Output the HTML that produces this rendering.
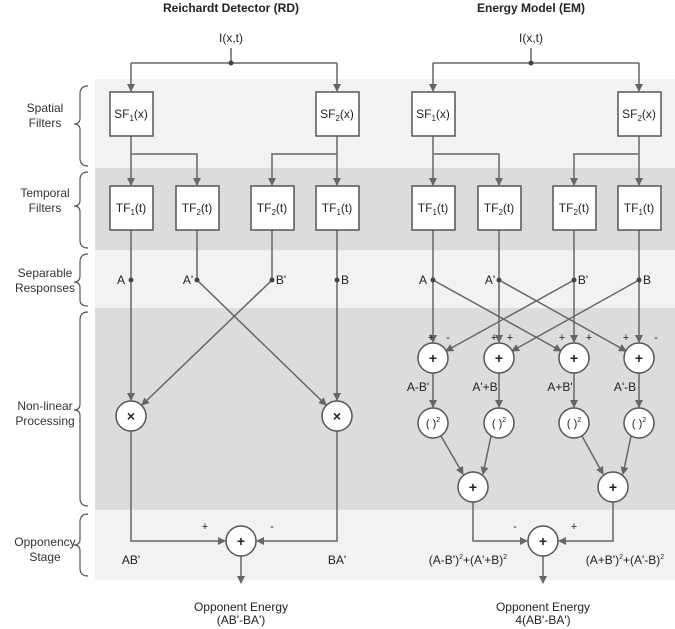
<html><head><style>body{margin:0;background:#fff}svg{font-family:"Liberation Sans",Arial,sans-serif}</style></head><body>
<svg width="675" height="629" viewBox="0 0 675 629" xmlns="http://www.w3.org/2000/svg">
<defs><marker id="a" markerWidth="8" markerHeight="8" refX="7" refY="4" orient="auto" markerUnits="userSpaceOnUse"><path d="M0,0 L8,4 L0,8 Z" fill="#666"/></marker></defs>
<rect x="95" y="79" width="580" height="89" fill="#f2f2f2"/>
<rect x="95" y="168" width="580" height="82" fill="#dcdcdd"/>
<rect x="95" y="250" width="580" height="58" fill="#f2f2f2"/>
<rect x="95" y="308" width="580" height="202" fill="#dcdcdd"/>
<rect x="95" y="510" width="580" height="70" fill="#f2f2f2"/>
<g font-size="12" fill="#333" text-anchor="middle">
<text x="45" y="112">Spatial</text><text x="45" y="127">Filters</text>
<text x="45" y="197">Temporal</text><text x="45" y="212">Filters</text>
<text x="45" y="277">Separable</text><text x="45" y="292">Responses</text>
<text x="45" y="410">Non-linear</text><text x="45" y="425">Processing</text>
<text x="45" y="546">Opponency</text><text x="45" y="561">Stage</text>
</g>
<g fill="none" stroke="#555" stroke-width="1.2">
<path d="M88,86 Q80,86 80,94 V118 Q80,124 74,124 Q80,124 80,130 V158 Q80,166 88,166"/>
<path d="M88,172 Q80,172 80,180 V200 Q80,206 74,206 Q80,206 80,212 V240 Q80,248 88,248"/>
<path d="M88,254 Q80,254 80,262 V276 Q80,282 74,282 Q80,282 80,288 V300 Q80,306 88,306"/>
<path d="M88,312 Q80,312 80,320 V404 Q80,410 74,410 Q80,410 80,416 V498 Q80,506 88,506"/>
<path d="M88,514 Q80,514 80,522 V539 Q80,545 74,545 Q80,545 80,551 V568 Q80,576 88,576"/>
</g>
<g font-size="12" font-weight="bold" fill="#222" text-anchor="middle"><text x="231" y="12">Reichardt Detector (RD)</text><text x="531" y="12">Energy Model (EM)</text></g>
<g stroke="#666" stroke-width="1.5" fill="none">
<!-- RD -->
<path d="M231,48 V63"/><path d="M131,63 H337"/><path d="M131,63 V91" marker-end="url(#a)"/><path d="M337,63 V91" marker-end="url(#a)"/>
<path d="M131,136 V185" marker-end="url(#a)"/><path d="M131,154 H197 V185" marker-end="url(#a)"/>
<path d="M337,136 V185" marker-end="url(#a)"/><path d="M337,154 H272 V185" marker-end="url(#a)"/>
<path d="M131,230 V400" marker-end="url(#a)"/><path d="M337,230 V400" marker-end="url(#a)"/>
<path d="M197,230 V280 L326,405" marker-end="url(#a)"/><path d="M272,230 V280 L142,405" marker-end="url(#a)"/>
<path d="M131,431 V541 H225" marker-end="url(#a)"/><path d="M337,431 V541 H257" marker-end="url(#a)"/>
<path d="M241,556 V583" marker-end="url(#a)"/>
<!-- EM -->
<path d="M531,48 V63"/><path d="M433,63 H639"/><path d="M433,63 V91" marker-end="url(#a)"/><path d="M639,63 V91" marker-end="url(#a)"/>
<path d="M433,136 V185" marker-end="url(#a)"/><path d="M433,154 H499 V185" marker-end="url(#a)"/>
<path d="M639,136 V185" marker-end="url(#a)"/><path d="M639,154 H574 V185" marker-end="url(#a)"/>
<path d="M433,230 V342" marker-end="url(#a)"/><path d="M499,230 V342" marker-end="url(#a)"/><path d="M574,230 V342" marker-end="url(#a)"/><path d="M639,230 V342" marker-end="url(#a)"/>
<path d="M433,280 L561,351" marker-end="url(#a)"/><path d="M499,280 L626,351" marker-end="url(#a)"/>
<path d="M574,280 L446,351" marker-end="url(#a)"/><path d="M639,280 L512,351" marker-end="url(#a)"/>
<path d="M433,373 V407" marker-end="url(#a)"/><path d="M499,373 V407" marker-end="url(#a)"/><path d="M574,373 V407" marker-end="url(#a)"/><path d="M639,373 V407" marker-end="url(#a)"/>
<path d="M441,436 L463,474" marker-end="url(#a)"/><path d="M491,436 L483,474" marker-end="url(#a)"/>
<path d="M582,436 L603,474" marker-end="url(#a)"/><path d="M631,436 L623,474" marker-end="url(#a)"/>
<path d="M473,502 V541 H527" marker-end="url(#a)"/><path d="M613,502 V541 H559" marker-end="url(#a)"/>
<path d="M543,556 V583" marker-end="url(#a)"/>
</g>
<g fill="#444"><circle cx="231" cy="63" r="2.5"/><circle cx="531" cy="63" r="2.5"/>
<circle cx="131" cy="280" r="2.5"/><circle cx="197" cy="280" r="2.5"/><circle cx="272" cy="280" r="2.5"/><circle cx="337" cy="280" r="2.5"/>
<circle cx="433" cy="280" r="2.5"/><circle cx="499" cy="280" r="2.5"/><circle cx="574" cy="280" r="2.5"/><circle cx="639" cy="280" r="2.5"/></g>
<g fill="#fff" stroke="#555" stroke-width="1.5">
<rect x="110" y="92" width="43" height="44"/><rect x="316" y="92" width="43" height="44"/>
<rect x="110" y="186" width="43" height="44"/><rect x="176" y="186" width="43" height="44"/><rect x="251" y="186" width="43" height="44"/><rect x="316" y="186" width="43" height="44"/>
<rect x="412" y="92" width="43" height="44"/><rect x="618" y="92" width="43" height="44"/>
<rect x="412" y="186" width="43" height="44"/><rect x="478" y="186" width="43" height="44"/><rect x="553" y="186" width="43" height="44"/><rect x="618" y="186" width="43" height="44"/>
<circle cx="131" cy="416" r="15"/><circle cx="337" cy="416" r="15"/><circle cx="241" cy="541" r="15"/>
<circle cx="433" cy="358" r="15"/><circle cx="499" cy="358" r="15"/><circle cx="574" cy="358" r="15"/><circle cx="639" cy="358" r="15"/>
<circle cx="433" cy="423" r="15"/><circle cx="499" cy="423" r="15"/><circle cx="574" cy="423" r="15"/><circle cx="639" cy="423" r="15"/>
<circle cx="473" cy="487" r="15"/><circle cx="613" cy="487" r="15"/><circle cx="543" cy="541" r="15"/>
</g>
<g font-size="12" fill="#222" text-anchor="middle">
<text x="231" y="42">I(x,t)</text><text x="531" y="42">I(x,t)</text>
<text x="131" y="118">SF<tspan font-size="8" dy="3">1</tspan><tspan dy="-3">(x)</tspan></text>
<text x="337" y="118">SF<tspan font-size="8" dy="3">2</tspan><tspan dy="-3">(x)</tspan></text>
<text x="433" y="118">SF<tspan font-size="8" dy="3">1</tspan><tspan dy="-3">(x)</tspan></text>
<text x="639" y="118">SF<tspan font-size="8" dy="3">2</tspan><tspan dy="-3">(x)</tspan></text>
<text x="131" y="212">TF<tspan font-size="8" dy="3">1</tspan><tspan dy="-3">(t)</tspan></text>
<text x="197" y="212">TF<tspan font-size="8" dy="3">2</tspan><tspan dy="-3">(t)</tspan></text>
<text x="272" y="212">TF<tspan font-size="8" dy="3">2</tspan><tspan dy="-3">(t)</tspan></text>
<text x="337" y="212">TF<tspan font-size="8" dy="3">1</tspan><tspan dy="-3">(t)</tspan></text>
<text x="433" y="212">TF<tspan font-size="8" dy="3">1</tspan><tspan dy="-3">(t)</tspan></text>
<text x="499" y="212">TF<tspan font-size="8" dy="3">2</tspan><tspan dy="-3">(t)</tspan></text>
<text x="574" y="212">TF<tspan font-size="8" dy="3">2</tspan><tspan dy="-3">(t)</tspan></text>
<text x="639" y="212">TF<tspan font-size="8" dy="3">1</tspan><tspan dy="-3">(t)</tspan></text>
<g font-weight="bold" font-size="14"><text x="131" y="421">×</text><text x="337" y="421">×</text><text x="241" y="546">+</text>
<text x="433" y="363">+</text><text x="499" y="363">+</text><text x="574" y="363">+</text><text x="639" y="363">+</text>
<text x="473" y="492">+</text><text x="613" y="492">+</text><text x="543" y="546">+</text></g>
<g font-size="11"><text x="433" y="427">( )<tspan font-size="7" dy="-5">2</tspan></text><text x="499" y="427">( )<tspan font-size="7" dy="-5">2</tspan></text><text x="574" y="427">( )<tspan font-size="7" dy="-5">2</tspan></text><text x="639" y="427">( )<tspan font-size="7" dy="-5">2</tspan></text></g>
<text x="121" y="284">A</text><text x="188" y="284">A'</text><text x="281" y="284">B'</text><text x="345" y="284">B</text>
<text x="423" y="284">A</text><text x="490" y="284">A'</text><text x="583" y="284">B'</text><text x="647" y="284">B</text>
<g font-size="11"><text x="205" y="530">+</text><text x="272" y="530">-</text><text x="515" y="530">-</text><text x="574" y="530">+</text>
<text x="431" y="341">+</text><text x="448" y="341">-</text><text x="494" y="341">+</text><text x="510" y="341">+</text>
<text x="562" y="341">+</text><text x="589" y="341">+</text><text x="626" y="341">+</text><text x="656" y="341">-</text></g>
<text x="418" y="391">A-B'</text><text x="485" y="391">A'+B</text><text x="560" y="391">A+B'</text><text x="625" y="391">A'-B</text>
<text x="131" y="564">AB'</text><text x="337" y="564">BA'</text>
<text x="468" y="564">(A-B')<tspan font-size="7" dy="-5">2</tspan><tspan dy="5">+(A'+B)</tspan><tspan font-size="7" dy="-5">2</tspan></text>
<text x="625" y="564">(A+B')<tspan font-size="7" dy="-5">2</tspan><tspan dy="5">+(A'-B)</tspan><tspan font-size="7" dy="-5">2</tspan></text>
<text x="241" y="611">Opponent Energy</text><text x="241" y="624">(AB'-BA')</text>
<text x="543" y="611">Opponent Energy</text><text x="543" y="624">4(AB'-BA')</text>
</g>
</svg></body></html>
